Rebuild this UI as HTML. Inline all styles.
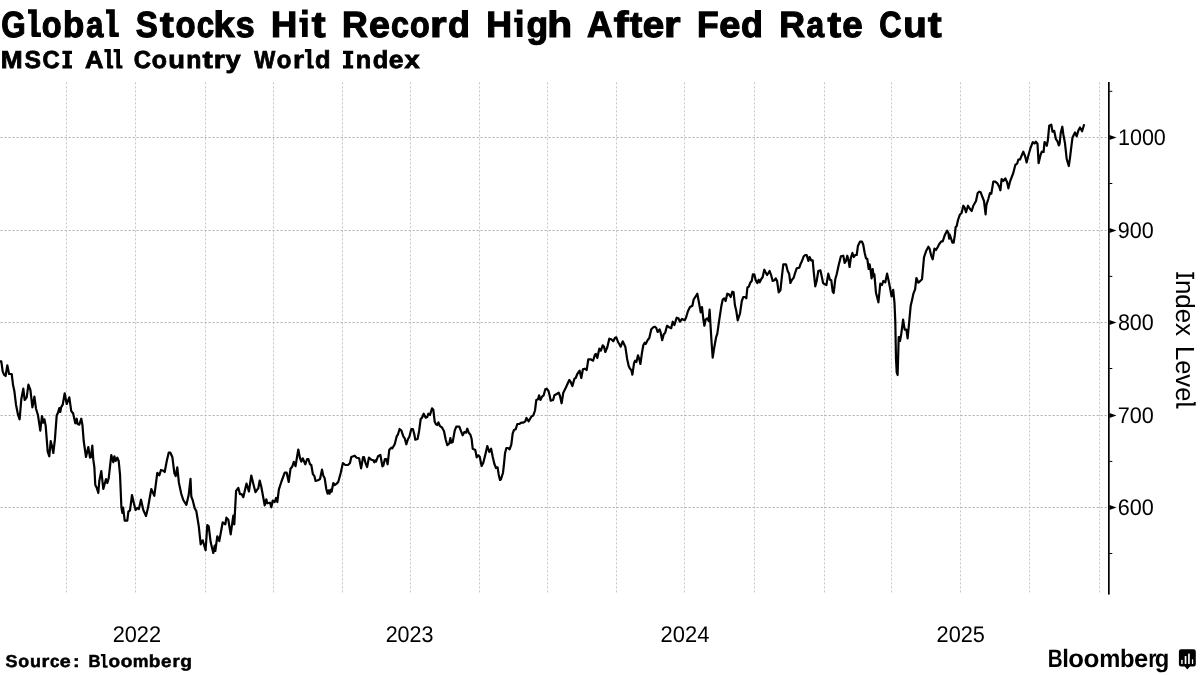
<!DOCTYPE html>
<html><head><meta charset="utf-8"><title>Global Stocks Hit Record High After Fed Rate Cut</title>
<style>
html,body{margin:0;padding:0;background:#fff;}
body{width:1200px;height:675px;overflow:hidden;font-family:"Liberation Sans",sans-serif;}
svg{display:block;will-change:transform;}
</style></head><body>
<svg width="1200" height="675" viewBox="0 0 1200 675">
<rect width="1200" height="675" fill="#fff"/>
<g stroke="#c6c6c6" stroke-width="1" stroke-dasharray="2 2" fill="none">
<line x1="66.5" y1="82.4" x2="66.5" y2="593.5"/>
<line x1="135.5" y1="82.4" x2="135.5" y2="593.5"/>
<line x1="205.5" y1="82.4" x2="205.5" y2="593.5"/>
<line x1="273.5" y1="82.4" x2="273.5" y2="593.5"/>
<line x1="342.5" y1="82.4" x2="342.5" y2="593.5"/>
<line x1="410.5" y1="82.4" x2="410.5" y2="593.5"/>
<line x1="479.5" y1="82.4" x2="479.5" y2="593.5"/>
<line x1="547.5" y1="82.4" x2="547.5" y2="593.5"/>
<line x1="616.5" y1="82.4" x2="616.5" y2="593.5"/>
<line x1="684.5" y1="82.4" x2="684.5" y2="593.5"/>
<line x1="754.5" y1="82.4" x2="754.5" y2="593.5"/>
<line x1="824.5" y1="82.4" x2="824.5" y2="593.5"/>
<line x1="891.5" y1="82.4" x2="891.5" y2="593.5"/>
<line x1="960.5" y1="82.4" x2="960.5" y2="593.5"/>
<line x1="1029.5" y1="82.4" x2="1029.5" y2="593.5"/>
<line x1="1099.5" y1="82.4" x2="1099.5" y2="593.5"/>
</g>
<g stroke="#b0b0b0" stroke-width="1" stroke-dasharray="2 2" fill="none">
<line x1="0.6" y1="137.5" x2="1107" y2="137.5"/>
<line x1="0.6" y1="230.5" x2="1107" y2="230.5"/>
<line x1="0.6" y1="322.5" x2="1107" y2="322.5"/>
<line x1="0.6" y1="415.5" x2="1107" y2="415.5"/>
<line x1="0.6" y1="507.5" x2="1107" y2="507.5"/>
</g>
<path d="M0.0,361.3 L1.3,361.3 L2.7,371.3 L4.0,374.7 L5.6,376.0 L7.3,365.3 L9.1,374.0 L11.7,374.0 L13.1,385.3 L14.4,391.3 L16.0,404.7 L18.0,414.7 L19.6,419.3 L21.3,399.3 L23.3,388.7 L24.7,400.0 L26.7,397.3 L28.4,384.7 L30.4,390.0 L32.4,407.3 L34.4,396.7 L36.0,408.7 L38.0,415.3 L40.3,430.7 L42.0,416.0 L43.3,422.7 L44.4,419.3 L45.7,426.0 L47.7,451.7 L49.3,456.3 L50.7,441.0 L52.0,446.3 L53.3,453.0 L54.9,439.7 L56.7,415.3 L58.0,412.7 L59.3,408.0 L60.3,412.0 L61.1,407.3 L62.7,404.7 L64.7,393.3 L66.7,404.0 L69.3,397.3 L71.3,411.3 L73.1,413.3 L75.3,423.3 L76.7,418.7 L77.6,424.0 L79.3,424.7 L81.3,418.7 L82.4,424.7 L83.7,441.0 L86.0,457.0 L88.3,447.0 L90.0,457.7 L91.0,457.0 L92.3,445.7 L93.3,459.7 L94.4,467.7 L95.3,485.0 L96.7,487.7 L98.3,493.0 L99.3,481.0 L101.3,471.0 L103.3,489.0 L106.0,479.0 L107.3,483.0 L108.7,478.3 L111.3,455.0 L113.3,462.3 L114.4,456.3 L115.7,461.0 L117.3,457.7 L118.7,461.0 L120.0,474.3 L121.4,507.3 L122.4,513.0 L123.1,507.7 L124.7,520.7 L127.3,520.7 L128.4,511.7 L130.0,510.3 L132.0,495.0 L134.0,503.7 L135.6,510.0 L137.3,508.0 L138.9,509.0 L141.0,499.7 L143.3,510.0 L146.0,516.0 L148.0,507.7 L151.3,489.0 L154.3,495.8 L157.3,472.8 L159.3,475.3 L161.0,470.0 L163.3,470.7 L164.7,472.0 L166.7,461.3 L168.7,452.7 L170.4,452.7 L172.4,457.3 L174.4,473.3 L175.7,476.0 L177.3,467.3 L178.9,482.7 L181.3,494.0 L183.3,500.0 L186.4,504.8 L188.7,494.8 L190.5,478.8 L191.3,496.5 L192.7,500.2 L194.7,508.2 L196.3,511.0 L198.7,525.7 L200.7,544.3 L202.7,540.3 L205.6,550.3 L207.3,525.0 L208.7,526.3 L210.7,542.3 L213.3,553.0 L214.7,545.7 L215.3,551.0 L217.3,536.3 L219.3,541.0 L222.7,522.3 L225.3,524.3 L226.4,517.7 L228.3,519.7 L230.7,534.3 L233.3,515.7 L234.3,524.3 L236.1,490.8 L238.3,487.8 L240.0,494.2 L241.6,494.0 L243.3,497.2 L246.5,483.5 L248.9,491.5 L251.3,475.5 L253.3,483.8 L255.5,492.2 L258.3,488.2 L259.7,480.5 L261.3,486.7 L264.7,505.3 L266.3,499.3 L267.3,503.3 L270.0,502.7 L271.3,507.3 L272.7,500.7 L274.7,502.0 L276.0,498.0 L277.3,502.0 L278.9,489.3 L281.3,482.0 L284.7,472.7 L286.7,472.7 L288.7,482.0 L290.5,468.8 L292.3,466.5 L293.8,461.8 L295.5,466.2 L298.3,449.5 L300.0,458.2 L301.3,461.7 L302.7,458.3 L305.3,464.3 L307.1,459.0 L308.4,459.0 L310.0,464.3 L311.3,465.0 L312.9,474.3 L314.3,475.7 L315.6,481.0 L318.0,480.3 L320.0,479.0 L322.0,469.7 L323.3,475.7 L324.7,478.3 L326.3,489.0 L327.6,493.7 L328.7,490.3 L329.6,493.7 L330.7,489.7 L331.6,491.7 L333.3,483.0 L334.7,485.0 L336.7,483.7 L338.3,481.7 L340.7,473.0 L342.9,463.0 L345.3,465.0 L348.0,465.0 L350.0,463.0 L351.3,457.0 L354.7,455.7 L356.7,457.7 L359.1,458.3 L361.1,468.3 L363.1,457.0 L364.0,457.0 L365.3,462.3 L367.1,467.0 L368.9,457.7 L371.3,459.7 L373.3,460.3 L374.3,462.3 L375.3,460.3 L376.0,461.7 L378.0,456.3 L380.4,455.0 L382.4,466.3 L383.3,465.7 L384.9,459.0 L386.3,459.0 L387.6,464.3 L389.3,449.7 L391.3,447.7 L392.4,448.3 L394.7,444.3 L396.7,436.3 L398.0,434.3 L399.6,429.0 L401.3,430.3 L403.3,436.3 L404.7,438.3 L406.3,444.3 L408.0,439.0 L409.3,437.0 L411.3,429.0 L412.9,429.0 L414.3,434.3 L415.3,439.7 L417.6,439.0 L419.1,431.0 L420.7,419.0 L422.0,417.7 L423.7,413.7 L425.7,417.7 L427.3,417.0 L428.4,413.7 L430.0,415.0 L432.0,408.3 L433.3,409.7 L434.7,421.7 L436.0,424.3 L437.3,425.0 L438.4,422.3 L440.0,426.2 L442.0,427.5 L444.0,431.2 L445.7,439.5 L447.3,445.2 L449.3,443.5 L450.4,438.0 L451.3,442.7 L452.7,442.0 L454.7,430.7 L456.3,426.7 L459.3,426.7 L461.1,431.3 L462.7,435.3 L464.4,432.0 L466.0,432.7 L467.3,428.7 L468.7,432.7 L470.4,434.7 L471.6,438.7 L472.7,448.7 L475.3,450.0 L476.7,457.3 L478.4,455.3 L479.7,456.7 L481.6,466.0 L483.3,462.7 L485.3,454.7 L487.3,446.0 L489.3,452.0 L491.1,448.7 L492.7,456.7 L494.4,464.0 L496.0,468.0 L497.6,467.3 L498.7,474.7 L500.0,480.0 L501.0,479.3 L503.0,472.7 L504.0,464.0 L505.0,453.3 L506.4,448.0 L508.0,448.0 L509.6,449.3 L511.3,444.7 L512.7,433.3 L514.0,430.0 L515.7,429.3 L517.3,424.0 L519.3,424.0 L521.3,422.7 L523.3,422.7 L525.3,421.3 L526.4,418.0 L528.7,421.3 L531.3,416.7 L533.3,415.3 L535.0,410.5 L536.3,400.0 L538.0,399.3 L539.1,395.3 L540.4,400.0 L542.0,396.7 L543.7,395.3 L545.3,389.3 L546.7,388.7 L548.4,390.7 L549.6,395.3 L550.7,400.7 L553.1,400.0 L554.4,395.3 L556.7,394.0 L558.7,392.7 L560.0,396.0 L561.6,403.3 L563.3,392.7 L566.0,387.3 L569.3,380.0 L570.7,382.0 L572.4,386.0 L574.4,378.7 L575.7,378.0 L577.3,374.0 L579.6,370.7 L581.3,378.0 L582.9,369.3 L584.7,368.7 L586.7,370.0 L588.3,359.3 L590.7,359.3 L593.1,360.7 L594.9,354.7 L596.0,354.0 L597.3,358.0 L599.3,348.7 L600.9,350.7 L602.7,345.3 L604.0,346.7 L605.3,352.0 L607.3,347.3 L609.3,338.7 L611.3,339.3 L613.3,341.3 L614.9,338.0 L616.3,337.3 L618.0,342.0 L619.3,344.0 L620.7,346.7 L622.7,341.3 L624.0,344.0 L625.3,346.7 L627.1,358.7 L628.7,366.0 L630.0,368.7 L631.3,370.0 L632.4,374.7 L634.0,363.3 L635.1,360.7 L636.4,362.0 L638.0,355.3 L639.3,359.3 L640.4,364.0 L642.0,352.7 L643.3,345.3 L644.7,342.7 L645.7,344.0 L647.3,340.7 L649.3,338.0 L651.3,329.3 L653.3,327.3 L654.9,326.7 L656.3,328.0 L657.6,332.0 L659.6,329.3 L660.7,332.7 L662.2,340.2 L663.8,334.2 L665.2,332.8 L667.0,325.8 L669.2,327.2 L671.2,328.2 L672.7,321.7 L674.4,325.0 L676.7,317.7 L678.4,318.3 L680.0,321.7 L682.0,319.0 L684.7,320.3 L686.0,317.7 L688.0,311.0 L690.0,307.0 L692.4,305.7 L693.6,299.7 L695.3,297.0 L697.3,293.7 L698.9,302.3 L700.7,312.3 L702.0,307.0 L703.3,319.0 L704.4,325.7 L705.6,319.7 L707.3,318.3 L708.7,321.0 L709.6,309.7 L710.7,328.3 L711.7,344.3 L712.7,357.7 L714.0,349.0 L716.0,337.7 L717.3,333.7 L719.3,319.7 L721.3,306.3 L722.7,299.7 L724.3,298.3 L725.6,301.0 L727.3,293.7 L728.9,294.3 L730.7,297.0 L732.4,291.7 L733.6,292.3 L734.9,305.0 L736.3,311.0 L737.7,320.3 L740.0,313.5 L741.8,301.0 L743.3,297.0 L745.1,297.0 L746.3,298.3 L747.4,287.5 L748.8,286.7 L750.2,282.8 L751.7,281.0 L752.9,274.3 L754.3,274.3 L755.7,280.3 L757.3,283.0 L758.7,279.7 L759.7,282.3 L761.3,279.0 L762.7,277.0 L764.3,269.7 L765.6,272.3 L767.1,275.0 L768.4,273.0 L769.6,271.0 L771.3,275.7 L772.7,281.0 L774.4,280.3 L775.7,278.3 L777.1,281.0 L778.7,292.3 L780.4,290.3 L781.7,278.3 L783.3,264.3 L786.0,264.3 L787.7,271.0 L789.1,273.7 L790.4,283.0 L792.0,279.7 L793.7,277.7 L795.3,272.3 L796.7,268.3 L799.3,267.7 L800.7,263.7 L802.0,261.0 L803.7,256.3 L805.3,255.0 L806.7,255.0 L808.4,261.0 L809.6,257.0 L811.1,260.3 L812.7,260.3 L813.7,271.7 L815.3,286.3 L816.7,281.0 L818.3,271.0 L820.4,270.3 L821.7,276.3 L823.1,283.0 L824.7,284.3 L826.4,285.0 L828.3,273.7 L830.0,279.7 L831.3,280.3 L832.7,291.7 L833.7,293.0 L835.3,279.0 L836.7,274.3 L838.7,265.0 L840.9,256.3 L843.3,255.7 L844.7,263.0 L846.0,261.0 L847.3,255.7 L848.4,259.7 L849.6,267.0 L850.9,257.7 L852.4,253.0 L853.7,257.0 L855.3,255.0 L856.7,255.0 L858.0,245.7 L860.0,241.7 L862.0,241.7 L863.3,245.0 L864.7,253.0 L866.0,258.3 L867.3,259.0 L868.7,269.0 L869.6,264.3 L870.7,271.0 L871.6,278.3 L872.7,269.0 L873.7,276.3 L874.4,274.3 L876.0,293.0 L877.3,297.7 L878.4,302.3 L880.3,283.7 L882.0,285.0 L883.3,281.0 L885.3,282.3 L887.1,273.7 L888.7,281.0 L890.0,287.7 L891.6,296.5 L893.2,289.8 L894.5,303.0 L895.3,321.7 L896.0,359.0 L896.7,372.3 L897.6,375.0 L898.4,348.3 L898.7,337.0 L899.6,337.0 L900.0,341.0 L901.3,333.7 L903.1,319.7 L904.7,329.7 L906.4,329.7 L907.6,338.3 L909.1,323.0 L910.7,305.7 L912.0,300.2 L913.5,293.3 L915.1,289.3 L916.4,278.0 L918.4,282.7 L922.0,279.3 L924.0,257.3 L926.0,251.3 L928.4,246.7 L929.6,248.7 L931.1,255.3 L932.7,259.3 L934.4,248.7 L936.0,250.0 L937.6,247.3 L939.3,244.0 L941.3,241.3 L942.7,241.3 L944.7,235.3 L947.1,230.7 L948.3,232.7 L949.1,238.7 L949.7,234.7 L951.1,238.7 L952.4,242.7 L953.7,242.7 L954.9,234.7 L955.6,227.3 L956.7,226.0 L958.0,220.0 L959.8,214.8 L961.6,213.0 L963.3,205.7 L964.7,207.7 L966.0,212.3 L968.0,205.7 L970.0,209.0 L971.7,211.0 L973.3,205.7 L976.0,201.0 L977.7,193.0 L979.3,191.7 L980.7,192.3 L982.4,197.0 L984.0,201.0 L985.6,214.3 L986.4,205.0 L988.3,199.0 L990.0,193.0 L991.3,193.7 L993.3,181.7 L995.3,181.7 L997.6,183.7 L999.3,187.0 L1000.4,190.3 L1001.6,179.0 L1003.3,181.0 L1005.3,178.3 L1007.1,182.3 L1008.4,188.3 L1010.0,181.7 L1013.3,173.0 L1015.3,165.0 L1017.1,163.7 L1018.3,159.7 L1020.0,159.5 L1023.3,151.7 L1025.2,156.5 L1026.6,162.4 L1028.5,155.0 L1030.5,148.0 L1032.8,142.2 L1034.5,143.5 L1035.8,141.7 L1037.5,143.8 L1038.6,163.2 L1040.5,155.0 L1041.8,151.7 L1043.6,152.0 L1044.5,142.0 L1046.0,143.5 L1046.8,145.8 L1047.9,140.0 L1049.2,125.8 L1051.3,124.6 L1052.5,131.7 L1054.2,130.8 L1055.8,138.8 L1057.5,141.3 L1058.8,145.4 L1059.6,143.8 L1060.8,132.5 L1062.3,126.7 L1063.3,134.2 L1065.0,143.3 L1066.7,159.0 L1068.8,166.0 L1070.0,157.8 L1071.3,146.8 L1072.5,137.5 L1075.0,132.5 L1076.7,136.3 L1078.3,130.8 L1080.0,127.5 L1082.1,131.3 L1084.2,124.2" fill="none" stroke="#000" stroke-width="2.2" stroke-linejoin="round" stroke-linecap="butt"/>
<rect x="1108" y="82" width="1.7" height="512.6" fill="#000"/>
<path d="M1109.4,135.0 L1116.5,137.5 L1109.4,140.0 Z" fill="#000"/>
<path d="M1109.4,228.0 L1116.5,230.5 L1109.4,233.0 Z" fill="#000"/>
<path d="M1109.4,320.0 L1116.5,322.5 L1109.4,325.0 Z" fill="#000"/>
<path d="M1109.4,413.0 L1116.5,415.5 L1109.4,418.0 Z" fill="#000"/>
<path d="M1109.4,505.0 L1116.5,507.5 L1109.4,510.0 Z" fill="#000"/>
<rect x="1109.4" y="90.8" width="2.9" height="1" fill="#000"/>
<rect x="1109.4" y="183.0" width="2.9" height="1" fill="#000"/>
<rect x="1109.4" y="275.9" width="2.9" height="1" fill="#000"/>
<rect x="1109.4" y="368.0" width="2.9" height="1" fill="#000"/>
<rect x="1109.4" y="460.9" width="2.9" height="1" fill="#000"/>
<rect x="1109.4" y="553.0" width="2.9" height="1" fill="#000"/>
<g font-family="'Liberation Sans', sans-serif" fill="#000" text-rendering="geometricPrecision">
<text x="1.31" y="36.75" font-size="36.4" font-weight="700" stroke="#000" stroke-width="1.2" textLength="24.43" lengthAdjust="spacingAndGlyphs">G</text>
<path d="M28.00,9.30 H36.80 V30.90 Q36.80,32.50 38.40,32.50 H40.90 V36.90 H33.00 Q31.40,36.90 31.40,35.30 V13.80 H28.00 Z"/>
<text x="41.83" y="36.75" font-size="36.4" font-weight="700" stroke="#000" stroke-width="1.2" textLength="19.83" lengthAdjust="spacingAndGlyphs">o</text>
<text x="62.91" y="36.75" font-size="36.4" font-weight="700" stroke="#000" stroke-width="1.2" textLength="21.31" lengthAdjust="spacingAndGlyphs">b</text>
<text x="86.31" y="36.75" font-size="36.4" font-weight="700" stroke="#000" stroke-width="1.2" textLength="17.10" lengthAdjust="spacingAndGlyphs">a</text>
<path d="M106.00,9.30 H114.80 V30.90 Q114.80,32.50 116.40,32.50 H118.90 V36.90 H111.00 Q109.40,36.90 109.40,35.30 V13.80 H106.00 Z"/>
<text x="135.76" y="36.75" font-size="36.4" font-weight="700" stroke="#000" stroke-width="1.2" textLength="22.03" lengthAdjust="spacingAndGlyphs">S</text>
<text x="160.10" y="36.75" font-size="36.4" font-weight="700" stroke="#000" stroke-width="1.2" textLength="13.79" lengthAdjust="spacingAndGlyphs">t</text>
<text x="175.62" y="36.75" font-size="36.4" font-weight="700" stroke="#000" stroke-width="1.2" textLength="20.06" lengthAdjust="spacingAndGlyphs">o</text>
<text x="196.69" y="36.75" font-size="36.4" font-weight="700" stroke="#000" stroke-width="1.2" textLength="17.32" lengthAdjust="spacingAndGlyphs">c</text>
<text x="213.57" y="36.75" font-size="36.4" font-weight="700" stroke="#000" stroke-width="1.2" textLength="21.08" lengthAdjust="spacingAndGlyphs">k</text>
<text x="235.81" y="36.75" font-size="36.4" font-weight="700" stroke="#000" stroke-width="1.2" textLength="18.87" lengthAdjust="spacingAndGlyphs">s</text>
<text x="270.88" y="36.75" font-size="36.4" font-weight="700" stroke="#000" stroke-width="1.2" textLength="26.26" lengthAdjust="spacingAndGlyphs">H</text>
<path d="M299.40,17.70 H307.70 V36.90 H302.00 V22.30 H299.40 Z M302.00,9.40 H307.70 V14.40 H302.00 Z"/>
<text x="311.70" y="36.75" font-size="36.4" font-weight="700" stroke="#000" stroke-width="1.2" textLength="13.79" lengthAdjust="spacingAndGlyphs">t</text>
<text x="341.92" y="36.75" font-size="36.4" font-weight="700" stroke="#000" stroke-width="1.2" textLength="25.80" lengthAdjust="spacingAndGlyphs">R</text>
<text x="369.04" y="36.75" font-size="36.4" font-weight="700" stroke="#000" stroke-width="1.2" textLength="20.84" lengthAdjust="spacingAndGlyphs">e</text>
<text x="391.05" y="36.75" font-size="36.4" font-weight="700" stroke="#000" stroke-width="1.2" textLength="17.89" lengthAdjust="spacingAndGlyphs">c</text>
<text x="409.94" y="36.75" font-size="36.4" font-weight="700" stroke="#000" stroke-width="1.2" textLength="19.71" lengthAdjust="spacingAndGlyphs">o</text>
<text x="430.10" y="36.75" font-size="36.4" font-weight="700" stroke="#000" stroke-width="1.2" textLength="16.62" lengthAdjust="spacingAndGlyphs">r</text>
<text x="447.93" y="36.75" font-size="36.4" font-weight="700" stroke="#000" stroke-width="1.2" textLength="21.94" lengthAdjust="spacingAndGlyphs">d</text>
<text x="486.13" y="36.75" font-size="36.4" font-weight="700" stroke="#000" stroke-width="1.2" textLength="25.77" lengthAdjust="spacingAndGlyphs">H</text>
<path d="M514.20,17.70 H522.50 V36.90 H516.80 V22.30 H514.20 Z M516.80,9.40 H522.50 V14.40 H516.80 Z"/>
<text x="526.45" y="36.75" font-size="36.4" font-weight="700" stroke="#000" stroke-width="1.2" textLength="21.62" lengthAdjust="spacingAndGlyphs">g</text>
<text x="547.17" y="36.75" font-size="36.4" font-weight="700" stroke="#000" stroke-width="1.2" textLength="24.84" lengthAdjust="spacingAndGlyphs">h</text>
<text x="586.94" y="36.75" font-size="36.4" font-weight="700" stroke="#000" stroke-width="1.2" textLength="25.49" lengthAdjust="spacingAndGlyphs">A</text>
<text x="613.65" y="36.75" font-size="36.4" font-weight="700" stroke="#000" stroke-width="1.2" textLength="14.66" lengthAdjust="spacingAndGlyphs">f</text>
<text x="629.75" y="36.75" font-size="36.4" font-weight="700" stroke="#000" stroke-width="1.2" textLength="12.50" lengthAdjust="spacingAndGlyphs">t</text>
<text x="642.70" y="36.75" font-size="36.4" font-weight="700" stroke="#000" stroke-width="1.2" textLength="21.42" lengthAdjust="spacingAndGlyphs">e</text>
<text x="664.12" y="36.75" font-size="36.4" font-weight="700" stroke="#000" stroke-width="1.2" textLength="16.50" lengthAdjust="spacingAndGlyphs">r</text>
<text x="697.04" y="36.75" font-size="36.4" font-weight="700" stroke="#000" stroke-width="1.2" textLength="21.64" lengthAdjust="spacingAndGlyphs">F</text>
<text x="719.22" y="36.75" font-size="36.4" font-weight="700" stroke="#000" stroke-width="1.2" textLength="21.07" lengthAdjust="spacingAndGlyphs">e</text>
<text x="741.03" y="36.75" font-size="36.4" font-weight="700" stroke="#000" stroke-width="1.2" textLength="21.94" lengthAdjust="spacingAndGlyphs">d</text>
<text x="779.22" y="36.75" font-size="36.4" font-weight="700" stroke="#000" stroke-width="1.2" textLength="25.80" lengthAdjust="spacingAndGlyphs">R</text>
<text x="806.48" y="36.75" font-size="36.4" font-weight="700" stroke="#000" stroke-width="1.2" textLength="17.62" lengthAdjust="spacingAndGlyphs">a</text>
<text x="827.61" y="36.75" font-size="36.4" font-weight="700" stroke="#000" stroke-width="1.2" textLength="13.58" lengthAdjust="spacingAndGlyphs">t</text>
<text x="842.17" y="36.75" font-size="36.4" font-weight="700" stroke="#000" stroke-width="1.2" textLength="20.38" lengthAdjust="spacingAndGlyphs">e</text>
<text x="879.13" y="36.75" font-size="36.4" font-weight="700" stroke="#000" stroke-width="1.2" textLength="22.31" lengthAdjust="spacingAndGlyphs">C</text>
<text x="903.31" y="36.75" font-size="36.4" font-weight="700" stroke="#000" stroke-width="1.2" textLength="23.52" lengthAdjust="spacingAndGlyphs">u</text>
<text x="927.91" y="36.75" font-size="36.4" font-weight="700" stroke="#000" stroke-width="1.2" textLength="13.58" lengthAdjust="spacingAndGlyphs">t</text>
<text x="0.65" y="68.3" font-size="24.6" font-weight="700" stroke="#000" stroke-width="0.8" textLength="21.90" lengthAdjust="spacingAndGlyphs">M</text>
<text x="24.50" y="68.3" font-size="24.6" font-weight="700" stroke="#000" stroke-width="0.8" textLength="16.47" lengthAdjust="spacingAndGlyphs">S</text>
<text x="42.62" y="68.3" font-size="24.6" font-weight="700" stroke="#000" stroke-width="0.8" textLength="17.23" lengthAdjust="spacingAndGlyphs">C</text>
<path d="M62.40,50.65 H72.00 V53.95 H69.50 V65.25 H72.00 V68.55 H62.40 V65.25 H65.10 V53.95 H62.40 Z"/>
<text x="84.97" y="68.3" font-size="24.6" font-weight="700" stroke="#000" stroke-width="0.8" textLength="18.50" lengthAdjust="spacingAndGlyphs">A</text>
<path d="M104.40,49.05 H110.80 V64.35 Q110.80,65.45 111.90,65.45 H113.30 V68.55 H108.20 Q107.10,68.55 107.10,67.45 V52.25 H104.40 Z"/>
<path d="M113.60,49.05 H120.00 V64.35 Q120.00,65.45 121.10,65.45 H122.50 V68.55 H117.40 Q116.30,68.55 116.30,67.45 V52.25 H113.60 Z"/>
<text x="133.82" y="68.3" font-size="24.6" font-weight="700" stroke="#000" stroke-width="0.8" textLength="17.23" lengthAdjust="spacingAndGlyphs">C</text>
<text x="151.83" y="68.3" font-size="24.6" font-weight="700" stroke="#000" stroke-width="0.8" textLength="15.24" lengthAdjust="spacingAndGlyphs">o</text>
<text x="168.31" y="68.3" font-size="24.6" font-weight="700" stroke="#000" stroke-width="0.8" textLength="16.69" lengthAdjust="spacingAndGlyphs">u</text>
<text x="186.37" y="68.3" font-size="24.6" font-weight="700" stroke="#000" stroke-width="0.8" textLength="15.16" lengthAdjust="spacingAndGlyphs">n</text>
<text x="202.43" y="68.3" font-size="24.6" font-weight="700" stroke="#000" stroke-width="0.8" textLength="10.35" lengthAdjust="spacingAndGlyphs">t</text>
<text x="213.73" y="68.3" font-size="24.6" font-weight="700" stroke="#000" stroke-width="0.8" textLength="11.08" lengthAdjust="spacingAndGlyphs">r</text>
<text x="225.40" y="68.3" font-size="24.6" font-weight="700" stroke="#000" stroke-width="0.8" textLength="15.14" lengthAdjust="spacingAndGlyphs">y</text>
<text x="254.19" y="68.3" font-size="24.6" font-weight="700" stroke="#000" stroke-width="0.8" textLength="21.03" lengthAdjust="spacingAndGlyphs">W</text>
<text x="276.66" y="68.3" font-size="24.6" font-weight="700" stroke="#000" stroke-width="0.8" textLength="14.67" lengthAdjust="spacingAndGlyphs">o</text>
<text x="292.93" y="68.3" font-size="24.6" font-weight="700" stroke="#000" stroke-width="0.8" textLength="11.08" lengthAdjust="spacingAndGlyphs">r</text>
<path d="M304.90,49.05 H311.30 V64.35 Q311.30,65.45 312.40,65.45 H313.80 V68.55 H308.70 Q307.60,68.55 307.60,67.45 V52.25 H304.90 Z"/>
<text x="314.96" y="68.3" font-size="24.6" font-weight="700" stroke="#000" stroke-width="0.8" textLength="15.51" lengthAdjust="spacingAndGlyphs">d</text>
<path d="M343.00,50.65 H353.20 V53.95 H350.40 V65.25 H353.20 V68.55 H343.00 V65.25 H345.90 V53.95 H343.00 Z"/>
<text x="355.75" y="68.3" font-size="24.6" font-weight="700" stroke="#000" stroke-width="0.8" textLength="15.41" lengthAdjust="spacingAndGlyphs">n</text>
<text x="372.76" y="68.3" font-size="24.6" font-weight="700" stroke="#000" stroke-width="0.8" textLength="15.51" lengthAdjust="spacingAndGlyphs">d</text>
<text x="388.77" y="68.3" font-size="24.6" font-weight="700" stroke="#000" stroke-width="0.8" textLength="14.74" lengthAdjust="spacingAndGlyphs">e</text>
<text x="404.62" y="68.3" font-size="24.6" font-weight="700" stroke="#000" stroke-width="0.8" textLength="15.17" lengthAdjust="spacingAndGlyphs">x</text>
<text x="1117.96" y="144.70000000000002" font-size="22.7" textLength="47.87" lengthAdjust="spacingAndGlyphs">1000</text>
<text x="1117.80" y="237.8" font-size="22.7" textLength="35.93" lengthAdjust="spacingAndGlyphs">900</text>
<text x="1117.88" y="330.0" font-size="22.7" textLength="35.85" lengthAdjust="spacingAndGlyphs">800</text>
<text x="1117.70" y="422.79999999999995" font-size="22.7" textLength="36.03" lengthAdjust="spacingAndGlyphs">700</text>
<text x="1117.71" y="515.0" font-size="22.7" textLength="36.02" lengthAdjust="spacingAndGlyphs">600</text>
<text x="112.66" y="641.8" font-size="22.6" textLength="48.38" lengthAdjust="spacingAndGlyphs">2022</text>
<text x="385.63" y="641.8" font-size="22.6" textLength="47.81" lengthAdjust="spacingAndGlyphs">2023</text>
<text x="660.60" y="641.8" font-size="22.6" textLength="48.73" lengthAdjust="spacingAndGlyphs">2024</text>
<text x="936.61" y="641.8" font-size="22.6" textLength="48.29" lengthAdjust="spacingAndGlyphs">2025</text>
<g transform="translate(1176.3,0) rotate(90)"><path d="M272.30,-17.90 H279.00 V-16.00 H276.80 V-1.80 H279.00 V0.10 H272.30 V-1.80 H274.50 V-16.00 H272.30 Z"/><text x="279.89" y="0" font-size="26.2" textLength="56.18" lengthAdjust="spacingAndGlyphs">ndex</text><text x="345.90" y="0" font-size="26.2" textLength="55.53" lengthAdjust="spacingAndGlyphs">Leve</text><path d="M401.90,-19.40 H405.50 V-3.00 Q405.50,-2.00 406.50,-2.00 H408.60 V0.10 H404.20 Q403.20,0.10 403.20,-0.90 V-17.50 H401.90 Z"/></g>
<text x="5.54" y="667.45" font-size="17.3" font-weight="700" stroke="#000" stroke-width="0.5" textLength="12.02" lengthAdjust="spacingAndGlyphs">S</text>
<text x="18.30" y="667.45" font-size="17.3" font-weight="700" stroke="#000" stroke-width="0.5" textLength="10.89" lengthAdjust="spacingAndGlyphs">o</text>
<text x="29.93" y="667.45" font-size="17.3" font-weight="700" stroke="#000" stroke-width="0.5" textLength="11.00" lengthAdjust="spacingAndGlyphs">u</text>
<text x="41.44" y="667.45" font-size="17.3" font-weight="700" stroke="#000" stroke-width="0.5" textLength="7.81" lengthAdjust="spacingAndGlyphs">r</text>
<text x="49.99" y="667.45" font-size="17.3" font-weight="700" stroke="#000" stroke-width="0.5" textLength="9.46" lengthAdjust="spacingAndGlyphs">c</text>
<text x="59.88" y="667.45" font-size="17.3" font-weight="700" stroke="#000" stroke-width="0.5" textLength="10.94" lengthAdjust="spacingAndGlyphs">e</text>
<text x="72.94" y="667.45" font-size="17.3" font-weight="700" stroke="#000" stroke-width="0.5" textLength="6.61" lengthAdjust="spacingAndGlyphs">:</text>
<text x="88.44" y="667.45" font-size="17.3" font-weight="700" stroke="#000" stroke-width="0.5" textLength="12.07" lengthAdjust="spacingAndGlyphs">B</text>
<path d="M100.90,654.05 H105.40 V664.65 Q105.40,665.45 106.20,665.45 H107.70 V667.65 H103.70 Q102.90,667.65 102.90,666.85 V656.35 H100.90 Z"/>
<text x="108.51" y="667.45" font-size="17.3" font-weight="700" stroke="#000" stroke-width="0.5" textLength="11.58" lengthAdjust="spacingAndGlyphs">o</text>
<text x="120.70" y="667.45" font-size="17.3" font-weight="700" stroke="#000" stroke-width="0.5" textLength="11.69" lengthAdjust="spacingAndGlyphs">o</text>
<text x="132.89" y="667.45" font-size="17.3" font-weight="700" stroke="#000" stroke-width="0.5" textLength="15.75" lengthAdjust="spacingAndGlyphs">m</text>
<text x="148.80" y="667.45" font-size="17.3" font-weight="700" stroke="#000" stroke-width="0.5" textLength="11.62" lengthAdjust="spacingAndGlyphs">b</text>
<text x="160.92" y="667.45" font-size="17.3" font-weight="700" stroke="#000" stroke-width="0.5" textLength="10.48" lengthAdjust="spacingAndGlyphs">e</text>
<text x="172.54" y="667.45" font-size="17.3" font-weight="700" stroke="#000" stroke-width="0.5" textLength="7.18" lengthAdjust="spacingAndGlyphs">r</text>
<text x="180.16" y="667.45" font-size="17.3" font-weight="700" stroke="#000" stroke-width="0.5" textLength="11.78" lengthAdjust="spacingAndGlyphs">g</text>
<text x="1047.63" y="667.0" font-size="25.2" font-weight="700" textLength="14.90" lengthAdjust="spacingAndGlyphs">B</text>
<text x="1062.24" y="667.0" font-size="25.2" font-weight="700" textLength="6.64" lengthAdjust="spacingAndGlyphs">l</text>
<text x="1068.30" y="667.0" font-size="25.2" font-weight="700" textLength="15.70" lengthAdjust="spacingAndGlyphs">o</text>
<text x="1083.48" y="667.0" font-size="25.2" font-weight="700" textLength="15.93" lengthAdjust="spacingAndGlyphs">o</text>
<text x="1099.14" y="667.0" font-size="25.2" font-weight="700" textLength="21.12" lengthAdjust="spacingAndGlyphs">m</text>
<text x="1120.04" y="667.0" font-size="25.2" font-weight="700" textLength="14.53" lengthAdjust="spacingAndGlyphs">b</text>
<text x="1134.11" y="667.0" font-size="25.2" font-weight="700" textLength="14.16" lengthAdjust="spacingAndGlyphs">e</text>
<text x="1148.20" y="667.0" font-size="25.2" font-weight="700" textLength="8.31" lengthAdjust="spacingAndGlyphs">r</text>
<text x="1154.72" y="667.0" font-size="25.2" font-weight="700" textLength="14.57" lengthAdjust="spacingAndGlyphs">g</text>
</g>
<path d="M1181.1,649.3 h12.5 a2.2,2.2 0 0 1 2.2,2.2 v12.8 a2.2,2.2 0 0 1 -2.2,2.2 h-3.6 l-2.65,3.1 l-2.65,-3.1 h-3.6 a2.2,2.2 0 0 1 -2.2,-2.2 v-12.8 a2.2,2.2 0 0 1 2.2,-2.2 z" fill="#000"/>
<g fill="#fff"><rect x="1181.1" y="659.7" width="1.6" height="4.4" rx="0.6" fill="#e4e4e4"/><rect x="1184.7" y="656" width="1.7" height="8.1" rx="0.6"/><rect x="1188.1" y="653.5" width="1.7" height="10.6" rx="0.6"/><rect x="1191.9" y="659.2" width="1.3" height="4.9" rx="0.6"/></g>
</svg>
</body></html>
